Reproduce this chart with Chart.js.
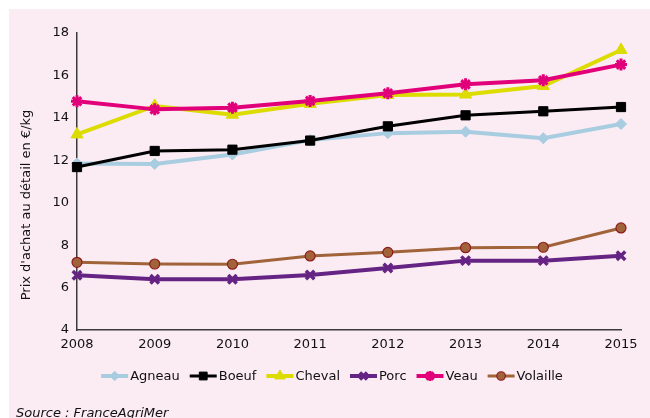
<!DOCTYPE html>
<html>
<head>
<meta charset="utf-8">
<script src="https://cdn.jsdelivr.net/npm/chart.js@4"></script>
<style>
html,body{margin:0;padding:0;background:#fff;}
#wrap{position:absolute;left:0;top:0;width:650px;height:418px;}
</style>
</head>
<body>
<div id="wrap"><canvas id="c" width="650" height="418"></canvas></div>
<script>
const years = ['2008','2009','2010','2011','2012','2013','2014','2015'];
const agneau   = [11.85, 11.83, 12.27, 12.95, 13.28, 13.35, 13.04, 13.71];
const boeuf    = [11.68, 12.44, 12.50, 12.93, 13.60, 14.12, 14.31, 14.51];
const cheval   = [13.22, 14.56, 14.15, 14.66, 15.08, 15.10, 15.50, 17.20];
const porc     = [6.58, 6.39, 6.39, 6.59, 6.92, 7.27, 7.27, 7.50];
const veau     = [14.78, 14.40, 14.48, 14.80, 15.16, 15.58, 15.77, 16.51];
const volaille = [7.19, 7.11, 7.10, 7.49, 7.66, 7.88, 7.90, 8.81];
const yTitle = "Prix d'achat au détail en €/kg";
const sourceText = 'Source : FranceAgriMer';

const FONT = "'DejaVu Sans', Verdana, sans-serif";
const AXIS = '#3a3a3a';

function ds(label, data, color, lw, style, radius, bw, fill, order){
  return {label, data, borderColor: color, backgroundColor: fill || color,
    borderWidth: lw, pointStyle: style, pointRadius: radius, pointHoverRadius: radius,
    pointBorderColor: (style==='circle') ? '#8e1b1b' : color,
    pointBackgroundColor: fill || color, pointBorderWidth: bw, tension: 0, order};
}

const datasets = [
  ds('Agneau', agneau, '#a8cde0', 4, 'rectRot', 5.5, 1, null, 6),
  ds('Boeuf', boeuf, '#000000', 3, 'rect', 6.5, 1, null, 5),
  ds('Cheval', cheval, '#dcdc00', 4, 'triangle', 7, 1, null, 4),
  ds('Porc', porc, '#652484', 4, 'crossRot', 6, 3.5, null, 3),
  ds('Veau', veau, '#e2007a', 4, 'star', 6, 3, null, 2),
  ds('Volaille', volaille, '#a0633a', 3, 'circle', 5, 1.2, '#a0633a', 1)
];

const bgPlugin = {
  id: 'bg',
  beforeDraw(chart){
    const ctx = chart.ctx;
    ctx.save();
    ctx.fillStyle = '#fbebf3';
    ctx.fillRect(9, 9, 650, 418);
    ctx.restore();
  }
};

const extraPlugin = {
  id: 'extra',
  afterDraw(chart){
    const ctx = chart.ctx;
    ctx.save();
    ctx.fillStyle = '#111';
    ctx.font = '13px ' + FONT;
    ctx.textAlign = 'center';
    ctx.textBaseline = 'middle';
    ctx.translate(27, 205);
    ctx.rotate(-Math.PI/2);
    ctx.fillText(yTitle, 0, 0);
    ctx.restore();

    // legend
    ctx.save();
    ctx.font = '13px ' + FONT;
    ctx.textBaseline = 'middle';
    ctx.textAlign = 'left';
    const lineW = 27, gapT = 2, gapI = 10, ly = 376;
    let total = 0;
    const widths = chart.data.datasets.map(d => ctx.measureText(d.label).width);
    widths.forEach((w,i)=>{ total += lineW + gapT + w + (i < widths.length-1 ? gapI : 0); });
    let x = 332 - total/2;
    chart.data.datasets.forEach((d,i)=>{
      ctx.strokeStyle = d.borderColor;
      ctx.lineWidth = d.borderWidth;
      ctx.beginPath();
      ctx.moveTo(x, ly); ctx.lineTo(x+lineW, ly);
      ctx.stroke();
      ctx.fillStyle = d.pointBackgroundColor;
      ctx.strokeStyle = d.pointBorderColor;
      ctx.lineWidth = d.pointBorderWidth;
      Chart.helpers.drawPoint(ctx, {pointStyle: d.pointStyle, rotation: 0, radius: d.pointRadius * 0.85, borderWidth: d.pointBorderWidth}, x+lineW/2, ly);
      ctx.fillStyle = '#111';
      ctx.fillText(d.label, x + lineW + gapT, ly+1);
      x += lineW + gapT + widths[i] + gapI;
    });
    ctx.restore();

    ctx.save();
    ctx.font = 'italic 13px ' + FONT;
    ctx.fillStyle = '#111';
    ctx.textAlign = 'left';
    ctx.textBaseline = 'alphabetic';
    ctx.fillText(sourceText, 16, 417);
    ctx.restore();
  }
};

new Chart(document.getElementById('c'), {
  type: 'line',
  data: { labels: years, datasets },
  options: {
    responsive: false,
    animation: false,
    events: [],
    layout: { padding: { left: 0, right: 29, top: 33, bottom: 58 } },
    plugins: { legend: { display: false }, tooltip: { enabled: false } },
    scales: {
      x: {
        offset: false,
        grid: { display: false, drawTicks: true, tickLength: 5, color: AXIS },
        border: { display: true, color: AXIS, width: 1.5 },
        ticks: { color: '#111', font: { family: FONT, size: 13 }, padding: 2, maxRotation: 0 },
        afterFit(s){ s.height = 30; }
      },
      y: {
        min: 4, max: 18,
        grid: { display: false, drawTicks: true, tickLength: 5, color: AXIS },
        border: { display: true, color: AXIS, width: 1.5 },
        ticks: { stepSize: 2, color: '#111', font: { family: FONT, size: 13 }, padding: 3 },
        afterFit(s){ s.width = 77; }
      }
    }
  },
  plugins: [bgPlugin, extraPlugin]
});
</script>
</body>
</html>
